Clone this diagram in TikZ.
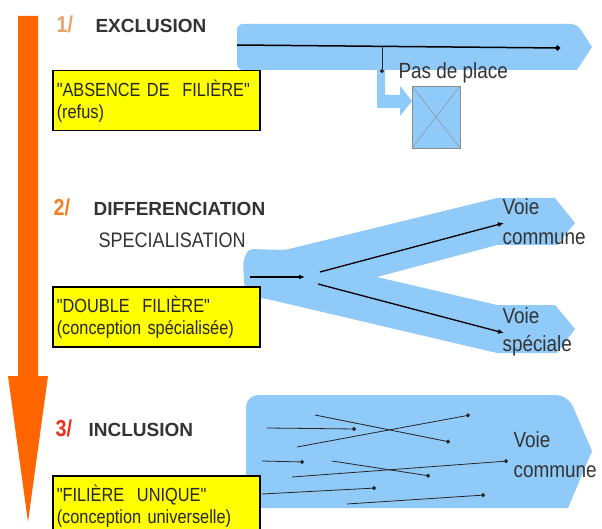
\documentclass[tikz,border=0pt]{standalone}
\usepackage{fontspec}
\setmainfont{Liberation Sans}
\newfontfamily\narrowsf[FakeStretch=0.86]{Liberation Sans}
\usetikzlibrary{arrows.meta}
\definecolor{voie}{HTML}{90CAF9}
\definecolor{fleche}{HTML}{FF6600}
\definecolor{numun}{HTML}{E6A564}
\definecolor{numdeux}{HTML}{F0801E}
\definecolor{numtrois}{HTML}{E8321E}
\definecolor{jaune}{HTML}{FFFF00}

\begin{document}
\begin{tikzpicture}[x=1pt, y=-1pt,
  titre/.style={anchor=base west, text=black!80, font=\fontsize{19}{22}\selectfont\bfseries},
  num/.style={anchor=base west, font=\narrowsf\fontsize{23}{24}\selectfont\bfseries},
  cadre/.style={draw=black, line width=1.5pt, fill=jaune, anchor=north west,
    minimum width=207pt, minimum height=60pt, text width=199pt, inner sep=4pt,
    align=left, text=black!85, font=\narrowsf\fontsize{19}{22}\selectfont},
  etiq/.style={anchor=base west, text=black!80, font=\narrowsf\fontsize{22}{24}\selectfont},
  pt/.style={-{Circle[length=4pt]}, line width=0.8pt, black!85},
  fl/.style={-{Latex[length=6pt, width=5pt]}, line width=1.3pt}]
\useasboundingbox (0,0) rectangle (602,529);

% fleche orange
\fill[fleche] (18,16) -- (38,16) -- (38,376) -- (48,376) -- (28,522) -- (8,376) -- (18,376) -- cycle;

% 1/ exclusion
\fill[voie, rounded corners=6pt] (237,24) -- (577,24) [sharp corners] -- (592,47) -- (577,70) [rounded corners=6pt] -- (237,70) -- cycle;
\fill[voie] (377,70) -- (385,70) -- (385,95) -- (400,95) -- (400,86) -- (412,101) -- (400,116) -- (400,108) -- (377,108) -- cycle;
\draw[line width=1.5pt, -{Circle[length=5pt]}] (237,45) -- (560,48);
\draw[pt] (382,46) -- (382,73);
\draw[fill=voie, draw=black!45] (412,86) rectangle (460,148);
\draw[black!45] (412,86) -- (460,148);
\draw[black!45] (412,148) -- (460,86);
\node[num, text=numun] (n1) at (53,33) {1/};
\node[titre] (t1) at (92,33) {EXCLUSION};
\node[cadre] (c1) at (52,70) {"ABSENCE DE~~FILIÈRE"\\(refus)};
\node[etiq] (pdp) at (395,79) {Pas de place};

% 2/ differenciation
\fill[voie, rounded corners=5pt] (243,262) -- (248,249) -- (285,250) [sharp corners] -- (497,198) -- (555,198) -- (575,223) -- (557,245) -- (497,245) -- (377,277) -- (497,305) -- (555,305) -- (575,329) -- (557,353) -- (497,353) [rounded corners=5pt] -- (267,299) -- (245,296) -- cycle;
\draw[fl] (250,277) -- (305,277);
\draw[fl] (320,272) -- (504,223);
\draw[fl] (318,284) -- (504,333);
\node[num, text=numdeux] (n2) at (50,216) {2/};
\node[titre] (t2) at (90,216) {DIFFERENCIATION};
\node[etiq, font=\narrowsf\fontsize{21}{22}\selectfont] (s2) at (95,248) {SPECIALISATION};
\node[cadre] (c2) at (52,286) {"DOUBLE~~FILIÈRE"\\(conception spécialisée)};
\node[etiq] (vc2) at (499,215) {Voie};
\node[etiq] (cc2) at (499,245) {commune};
\node[etiq] (vs2) at (499,323) {Voie};
\node[etiq] (ss2) at (499,351) {spéciale};

% 3/ inclusion
\fill[voie, rounded corners=12pt] (246,508) -- (246,395) -- (568,395) [sharp corners] -- (592,451) -- (568,508) -- cycle;
\draw[pt] (267,428) -- (356,429);
\draw[pt] (315,415) -- (450,442);
\draw[pt] (297,447) -- (470,415);
\draw[pt] (262,461) -- (304,462);
\draw[pt] (332,461) -- (430,476);
\draw[pt] (292,477) -- (508,461);
\draw[pt] (262,494) -- (376,488);
\draw[pt] (347,504) -- (485,495);
\node[num, text=numtrois] (n3) at (52,436) {3/};
\node[titre] (t3) at (85,436) {INCLUSION};
\node[cadre] (c3) at (52,475) {"FILIÈRE~~UNIQUE"\\(conception universelle)};
\node[etiq] (vc3) at (510,447) {Voie};
\node[etiq] (cc3) at (510,477) {commune};
\end{tikzpicture}
\end{document}
